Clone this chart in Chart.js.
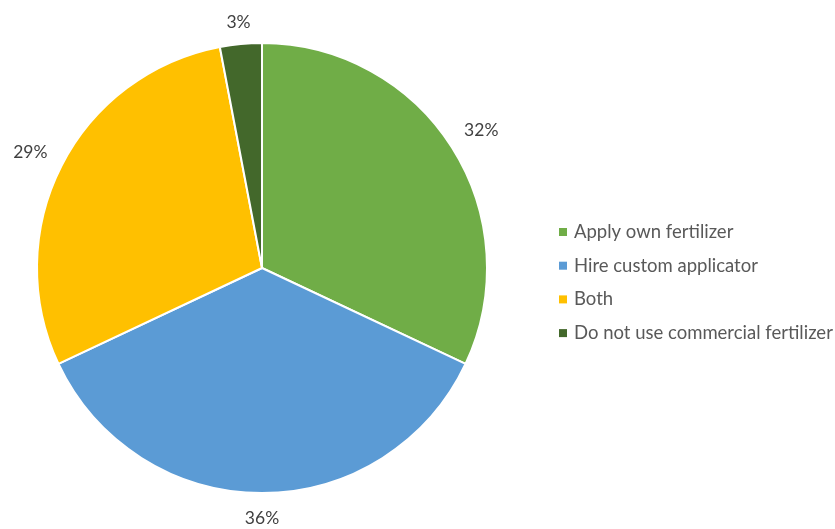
<!DOCTYPE html>
<html>
<head>
<meta charset="utf-8">
<script src="https://cdn.jsdelivr.net/npm/chart.js@4.4.1/dist/chart.umd.min.js"></script>
<style>
  html, body { margin: 0; padding: 0; background: #fff; }
  #wrap { width: 835px; height: 529px; position: relative; }
</style>
</head>
<body>
<div id="wrap"><canvas id="pieChart" width="835" height="529"></canvas></div>
<script>
const categories = ["Apply own fertilizer", "Hire custom applicator", "Both", "Do not use commercial fertilizer"];
const shares = [32, 36, 29, 3];
const sliceColors = ["#70AD47", "#5B9BD5", "#FFC000", "#43682B"];

const FONT = "Lato, 'Open Sans', sans-serif";

// percent labels just outside each slice, plus the legend on the right
const outsideLabels = {
    id: "outsideLabels",
    afterDraw(chart) {
        const ctx = chart.ctx;
        const meta = chart.getDatasetMeta(0);
        ctx.save();
        ctx.font = "17.5px " + FONT;
        ctx.fillStyle = "#404040";
        ctx.textAlign = "center";
        ctx.textBaseline = "middle";
        meta.data.forEach((arc, i) => {
            const p = arc.getProps(["x", "y", "startAngle", "endAngle", "outerRadius"], true);
            const mid = (p.startAngle + p.endAngle) / 2;
            const text = shares[i] + "%";
            const halfW = ctx.measureText(text).width / 2;
            const cx = Math.cos(mid), cy = Math.sin(mid);
            // keep the label's box a fixed gap away from the rim
            const r = p.outerRadius + 17 + Math.abs(cx) * halfW + Math.abs(cy) * 6;
            ctx.fillText(text, p.x + cx * r, p.y + cy * r + 2);
        });

        ctx.font = "18.5px " + FONT;
        ctx.textAlign = "left";
        categories.forEach((name, i) => {
            const y = 232 + i * 33.7;
            ctx.fillStyle = sliceColors[i];
            ctx.fillRect(559, y - 4, 8, 8);
            ctx.fillStyle = "#595959";
            ctx.fillText(name, 574, y);
        });
        ctx.restore();
    }
};

new Chart(document.getElementById("pieChart").getContext("2d"), {
    type: "pie",
    data: {
        labels: categories,
        datasets: [{
            data: shares,
            backgroundColor: sliceColors,
            borderColor: "#ffffff",
            borderWidth: 2
        }]
    },
    options: {
        responsive: false,
        animation: false,
        layout: { padding: { top: 42, bottom: 35, left: 36, right: 347 } },
        plugins: {
            legend: { display: false },
            tooltip: { enabled: false }
        }
    },
    plugins: [outsideLabels]
});
</script>
</body>
</html>
